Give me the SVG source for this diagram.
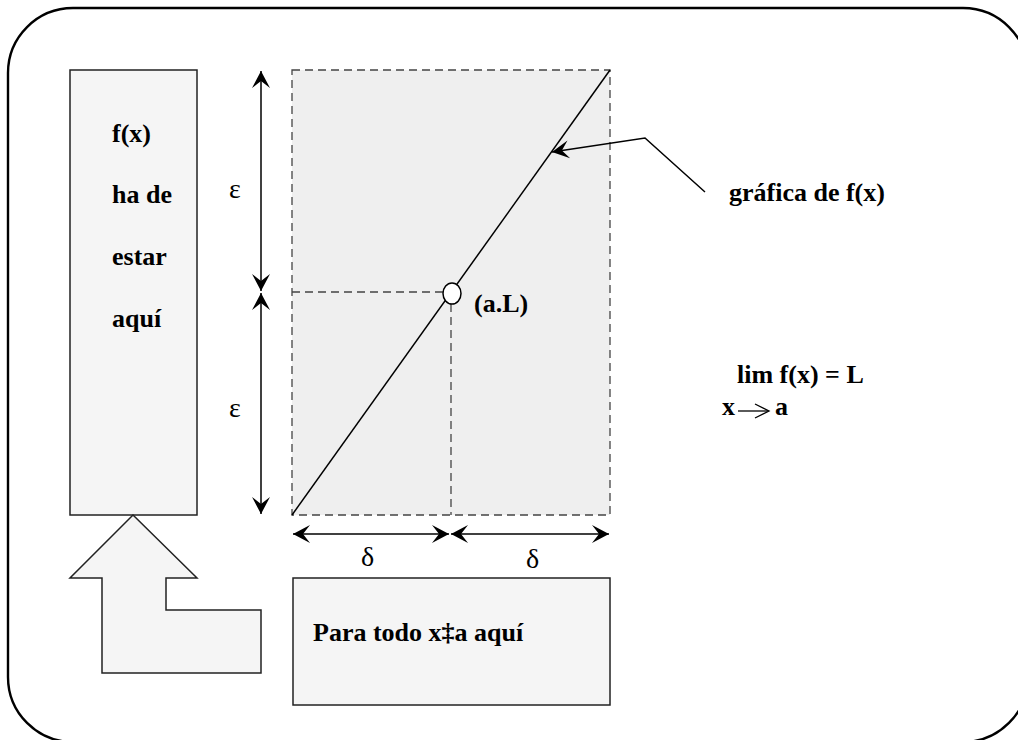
<svg xmlns="http://www.w3.org/2000/svg" width="1018" height="740" viewBox="0 0 1018 740">
<style>
.t{font-family:"Liberation Serif","Times New Roman",serif;font-weight:bold;font-size:26px;fill:#000}
.g{font-family:"Liberation Serif","Times New Roman",serif;font-size:28px;fill:#000}
.box{fill:#f5f5f5;stroke:#222;stroke-width:1.5}
.dash{fill:none;stroke:#444;stroke-width:1.3;stroke-dasharray:8 5}
.ln{fill:none;stroke:#000;stroke-width:1.5}
</style>
<defs>
<marker id="ah" markerUnits="userSpaceOnUse" markerWidth="24" markerHeight="24" viewBox="-20 -12 24 24" refX="0" refY="0" orient="auto-start-reverse">
<path d="M0,0 L-17,-9 L-10,0 L-17,9 Z" fill="#000"/>
</marker>
</defs>
<path id="frame" d="M73,8 L963,8 A65,65 0 0 1 1028,73 L1028,677 A65,65 0 0 1 963,742 L73,742 A65,65 0 0 1 8,677 L8,73 A65,65 0 0 1 73,8 Z" fill="none" stroke="#000" stroke-width="2.4"/>
<g id="box-fx">
<rect class="box" x="70" y="70" width="127" height="445"/>
<text class="t" x="112" y="142">f(x)</text>
<text class="t" x="112" y="203">ha de</text>
<text class="t" x="112" y="265">estar</text>
<text class="t" x="112" y="327">aquí</text>
</g>
<g id="region">
<rect x="292" y="70" width="318" height="445" fill="#efefef"/>
<rect class="dash" x="292" y="70" width="318" height="445"/>
<line class="dash" x1="292" y1="292" x2="443" y2="292"/>
<line class="dash" x1="451" y1="304" x2="451" y2="515"/>
<line class="ln" x1="292" y1="515" x2="610" y2="70" stroke-width="1.3"/>
<ellipse cx="452" cy="293.5" rx="9" ry="10.5" fill="#fff" stroke="#000" stroke-width="1.5"/>
<text class="t" x="474" y="312">(a.L)</text>
</g>
<g id="big-arrow">
<polygon class="box" points="133,515 197,578 166,578 166,610 261,610 261,673 102,673 102,578 70,578"/>
</g>
<g id="box-para">
<rect class="box" x="293" y="578" width="317" height="127"/>
<text class="t" x="313" y="641">Para todo x‡a aquí</text>
</g>
<g id="labels">
<text class="g" x="229" y="198">ε</text>
<text class="g" x="229" y="417">ε</text>
<text class="g" x="361" y="566">δ</text>
<text class="g" x="526" y="568">δ</text>
<text class="t" x="729" y="201">gráfica de f(x)</text>
<text class="t" x="737" y="383">lim f(x) = L</text>
<text class="t" x="722" y="415">x</text>
<text class="t" x="775" y="415">a</text>
</g>
<g id="connectors">
<line class="ln" x1="261" y1="71" x2="261" y2="291" marker-start="url(#ah)" marker-end="url(#ah)"/>
<line class="ln" x1="261" y1="293" x2="261" y2="514" marker-start="url(#ah)" marker-end="url(#ah)"/>
<line class="ln" x1="293" y1="534" x2="449" y2="534" marker-start="url(#ah)" marker-end="url(#ah)"/>
<line class="ln" x1="451" y1="534" x2="609" y2="534" marker-start="url(#ah)" marker-end="url(#ah)"/>
<polyline class="ln" points="705,192 645,138 552,152" stroke-width="1.2" marker-end="url(#ah)"/>
<line x1="738" y1="411" x2="768" y2="411" stroke="#000" stroke-width="1.3"/>
<path d="M755,404 L769,411 L755,418" fill="none" stroke="#000" stroke-width="1.3"/>
</g>
</svg>
